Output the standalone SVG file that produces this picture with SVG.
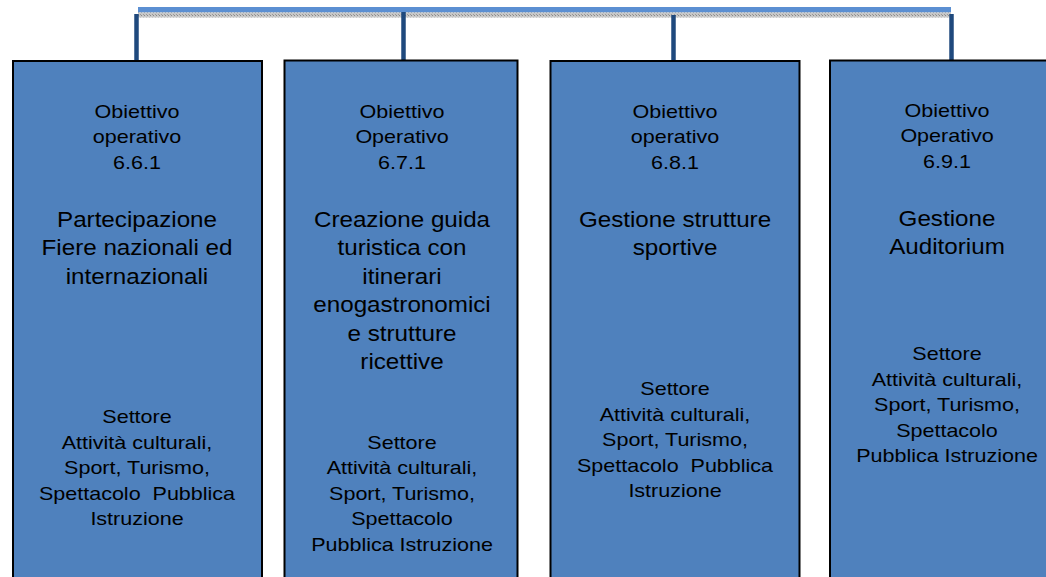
<svg xmlns="http://www.w3.org/2000/svg" width="1046" height="577" viewBox="0 0 1046 577">
<defs>
<pattern id="hatch" width="3" height="3" patternUnits="userSpaceOnUse">
<rect width="3" height="3" fill="#c8c8c8"/>
<rect width="1" height="1" fill="#8a8a8a"/>
<rect x="2" y="2" width="1" height="1" fill="#9a9a9a"/>
</pattern>
<style>
.box{fill:#4f81bd;stroke:#000;stroke-width:2}
.conn{stroke:#1f497d;stroke-width:4.5;fill:none}
text{font-family:"Liberation Sans",Arial,sans-serif;fill:#000;text-anchor:middle}
.s{font-size:18.8px}
.l{font-size:22px}
</style>
</defs>
<g id="connectors">
<rect x="138" y="7" width="813" height="5.5" fill="#5b8fd2"/>
<rect x="138" y="12.5" width="813" height="5" fill="url(#hatch)"/>
<line class="conn" x1="136.5" y1="14" x2="136.5" y2="60"/>
<line class="conn" x1="403.5" y1="12" x2="403.5" y2="63.5"/>
<line class="conn" x1="673.5" y1="15" x2="673.5" y2="61"/>
<line class="conn" x1="951.5" y1="14" x2="951.5" y2="65"/>
</g>
<g id="node1">
<rect class="box" x="13" y="61" width="249" height="530"/>
<g transform="translate(137,0) scale(1.1,1)">
<text class="l" x="0" y="227">Partecipazione</text>
<text class="l" x="0" y="255.5">Fiere nazionali ed</text>
<text class="l" x="0" y="284">internazionali</text>
</g>
<g transform="translate(137,0) scale(1.145,1)">
<text class="s" x="0" y="118">Obiettivo</text>
<text class="s" x="0" y="143.3">operativo</text>
<text class="s" x="0" y="168.6">6.6.1</text>
<text class="s" x="0" y="423.5">Settore</text>
<text class="s" x="0" y="449">Attività culturali,</text>
<text class="s" x="0" y="474.5">Sport, Turismo,</text>
<text class="s" x="0" y="500" xml:space="preserve">Spettacolo  Pubblica</text>
<text class="s" x="0" y="525.5">Istruzione</text>
</g>
</g>
<g id="node2">
<rect class="box" x="284.5" y="60.5" width="233" height="530"/>
<g transform="translate(402,0) scale(1.1,1)">
<text class="l" x="0" y="227">Creazione guida</text>
<text class="l" x="0" y="255.5">turistica con</text>
<text class="l" x="0" y="284">itinerari</text>
<text class="l" x="0" y="312.5">enogastronomici</text>
<text class="l" x="0" y="341">e strutture</text>
<text class="l" x="0" y="369.5">ricettive</text>
</g>
<g transform="translate(402,0) scale(1.145,1)">
<text class="s" x="0" y="118">Obiettivo</text>
<text class="s" x="0" y="143.3">Operativo</text>
<text class="s" x="0" y="168.6">6.7.1</text>
<text class="s" x="0" y="448.8">Settore</text>
<text class="s" x="0" y="474.3">Attività culturali,</text>
<text class="s" x="0" y="499.8">Sport, Turismo,</text>
<text class="s" x="0" y="525.3">Spettacolo</text>
<text class="s" x="0" y="550.8">Pubblica Istruzione</text>
</g>
</g>
<g id="node3">
<rect class="box" x="550.5" y="61" width="249" height="530"/>
<g transform="translate(675,0) scale(1.1,1)">
<text class="l" x="0" y="227">Gestione strutture</text>
<text class="l" x="0" y="255.5">sportive</text>
</g>
<g transform="translate(675,0) scale(1.145,1)">
<text class="s" x="0" y="118">Obiettivo</text>
<text class="s" x="0" y="143.3">operativo</text>
<text class="s" x="0" y="168.6">6.8.1</text>
<text class="s" x="0" y="395.5">Settore</text>
<text class="s" x="0" y="421">Attività culturali,</text>
<text class="s" x="0" y="446.5">Sport, Turismo,</text>
<text class="s" x="0" y="472" xml:space="preserve">Spettacolo  Pubblica</text>
<text class="s" x="0" y="497.5">Istruzione</text>
</g>
</g>
<g id="node4">
<rect class="box" x="830" y="60.5" width="240" height="530"/>
<g transform="translate(947,0) scale(1.1,1)">
<text class="l" x="0" y="226">Gestione</text>
<text class="l" x="0" y="254.5">Auditorium</text>
</g>
<g transform="translate(947,0) scale(1.145,1)">
<text class="s" x="0" y="117">Obiettivo</text>
<text class="s" x="0" y="142.3">Operativo</text>
<text class="s" x="0" y="167.6">6.9.1</text>
<text class="s" x="0" y="360.5">Settore</text>
<text class="s" x="0" y="386">Attività culturali,</text>
<text class="s" x="0" y="411.5">Sport, Turismo,</text>
<text class="s" x="0" y="437">Spettacolo</text>
<text class="s" x="0" y="462.5">Pubblica Istruzione</text>
</g>
</g>
</svg>
